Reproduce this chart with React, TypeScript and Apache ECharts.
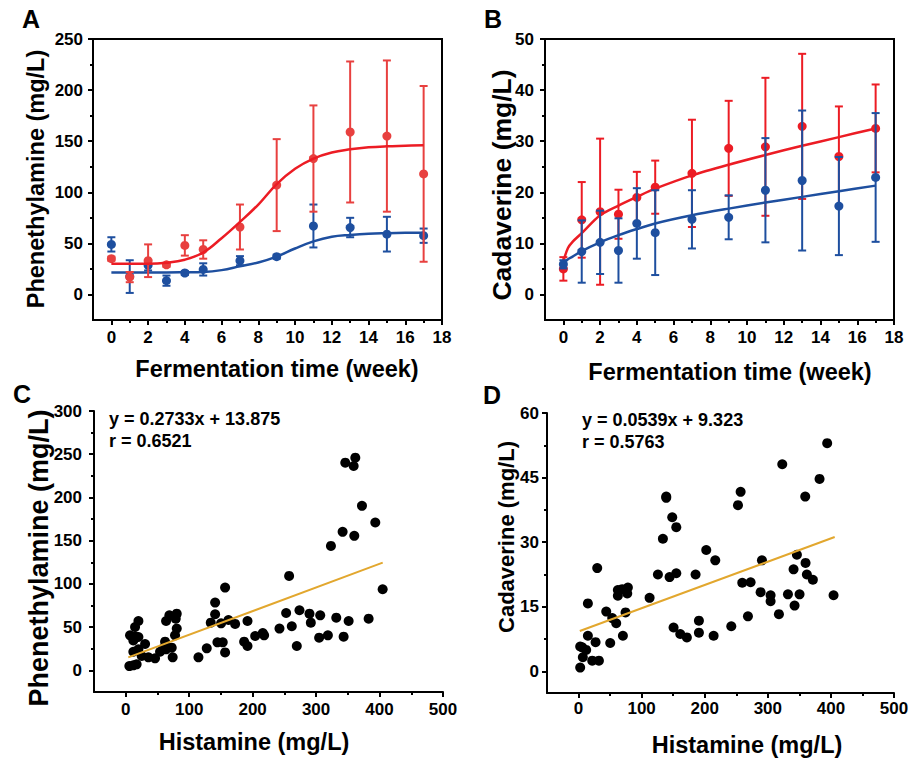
import React, { useEffect, useRef } from "react";
import * as echarts from "echarts";

// ---------- Panel A / B : time course ----------
const weeks = [0, 1, 2, 3, 4, 5, 7, 9, 11, 13, 15, 17];
const peaRedMean = [35, 17, 33, 29, 48, 44, 66, 107, 133, 159, 155, 118];
const peaRedErr = [2, 5, 16, 2, 10, 9, 22, 45, 52, 69, 74, 86];
const peaBlueMean = [49, 17.5, 28.5, 13.5, 21, 24.5, 33, 37, 67, 65.5, 59, 57.5];
const peaBlueErr = [7, 16, 5, 5, 2, 6, 4.5, 2, 21, 9.5, 17, 7];

const peaFitT = [0, 1, 2, 3, 4, 5, 6, 7, 8, 9, 10, 11, 12, 13, 14, 15, 16, 17];
const peaRedFit = [30, 30, 30, 31, 34, 41, 55, 71, 88, 108, 123, 133, 139, 142, 144, 145, 145.5, 146];
const peaBlueFit = [21.5, 21.5, 21.5, 21.5, 21.7, 22, 23.8, 27.5, 31.3, 37, 45, 52, 56.5, 58.3, 59.5, 60, 60.3, 60.5];

const cadRedMean = [5, 14.6, 16.2, 15.7, 19, 21, 23.7, 28.6, 28.9, 32.9, 27, 32.5];
const cadRedErr = [2.3, 7.4, 14.3, 4.8, 5, 5.2, 10.5, 9.3, 13.5, 14.2, 9.8, 8.6];
const cadBlueMean = [5.9, 8.4, 10.2, 8.6, 13.9, 12.1, 14.7, 15.1, 20.4, 22.3, 17.3, 22.9];
const cadBlueErr = [0.8, 6.1, 6.2, 6.3, 6.9, 8.3, 5.7, 4.3, 10.2, 13.7, 9.6, 12.6];

const cadFitT = [0, 0.25, 0.5, 1, 2, 3, 4, 5, 7, 9, 11, 13, 15, 17];
const cadRedFit = [6.5, 9.1, 10.3, 12, 15.5, 17.4, 19.1, 20.7, 23.3, 25.4, 27.3, 29.1, 30.8, 32.5];
const cadBlueFit = [6.1, 6.9, 7.4, 8.5, 10.2, 11.6, 12.8, 13.9, 15.5, 16.8, 18, 19.1, 20.2, 21.3];

// ---------- Panel C : Histamine vs Phenethylamine ----------
const histC = [5.7, 12, 17.2, 6.8, 14.7, 12, 20, 14.7, 20, 12, 20, 30.5, 25.2, 35.7, 46.2, 54.1, 62, 63.6, 72.5, 74, 59.4, 77.7, 80.4, 63.6, 68.8, 80.4, 78.8, 114.6, 127.7, 134, 140.9, 140.9, 156.6, 144.5, 152.9, 156.6, 150.3, 161.9, 172.4, 186.6, 191.9, 191.9, 204, 216, 218.1, 242.3, 252.8, 257.5, 261.7, 269.6, 273.8, 289.6, 291.7, 304.8, 306.5, 318.6, 323.4, 331.8, 341.8, 343.4, 346, 351.3, 359.2, 360.2, 361.8, 372.3, 382.8, 393.3, 404.9];
const peaC = [5, 5.8, 7, 40.5, 39.4, 34.7, 38.6, 50.2, 57.1, 21.6, 24.3, 30.5, 16.6, 15.1, 13.9, 21.6, 33.2, 24.3, 26.3, 15.1, 25.5, 40.5, 48.3, 57.1, 63.7, 65.6, 59.8, 15.1, 25.5, 55.2, 64.9, 78.4, 95.8, 32.4, 32.4, 20.8, 54.4, 58.3, 53.7, 33.2, 28.2, 57.1, 39.8, 43.2, 40.5, 48.3, 66.4, 109.3, 51, 28.2, 69.5, 65.6, 55.2, 37.8, 63.7, 40.5, 144, 61, 160.2, 39, 240.2, 57.1, 236.4, 155.6, 246, 190.3, 59.8, 171, 93.8];
const fitCX = [4, 405];
const fitCY = [15, 124.6];

// ---------- Panel D : Histamine vs Cadaverine ----------
const histD = [2.6, 6.8, 5.8, 2.6, 14.8, 21.7, 32.3, 27, 12.1, 14.8, 29.6, 43.9, 53.4, 59.7, 50.2, 70.3, 74.5, 62.3, 62.3, 69.2, 78.2, 77.2, 112.6, 125.8, 133.7, 139, 139, 148.5, 154.9, 144.3, 154.9, 150.6, 161.2, 171.7, 185.5, 190.8, 190.8, 202.4, 216.7, 214.1, 242.1, 252.7, 256.9, 259.5, 272.7, 268.5, 288.6, 290.7, 304.4, 304.4, 317.6, 322.9, 331.9, 340.8, 346.1, 342.4, 350.3, 359.3, 359.8, 361.9, 371.4, 382, 394.1, 404.2];
const cadD = [0.9, 3.3, 5.6, 5.8, 8.3, 2.5, 2.5, 6.8, 5, 15.8, 24, 13.9, 12.4, 11.2, 6.6, 8.3, 13.7, 18.9, 17.6, 19.1, 19.5, 18.1, 17.1, 22.5, 30.8, 40.6, 40.3, 35.8, 33.5, 21.9, 22.8, 10.2, 8.7, 7.9, 22.5, 11.8, 9, 28.2, 25.8, 8.3, 10.5, 38.6, 41.7, 20.6, 20.7, 12.8, 18.4, 25.8, 17.7, 16.3, 13.3, 48.1, 17.9, 23.7, 27.1, 15.3, 17.9, 40.6, 25.2, 22.5, 21.3, 44.7, 53, 17.7];
const fitDX = [2, 406];
const fitDY = [9.4, 31.2];

// ---------- tick values ----------
const weekTicks = [0, 2, 4, 6, 8, 10, 12, 14, 16, 18];
const weekMinor = [1, 3, 5, 7, 9, 11, 13, 15, 17];
const peaTicksA = [0, 50, 100, 150, 200, 250];
const peaMinorA = [25, 75, 125, 175, 225];
const cadTicksB = [0, 10, 20, 30, 40, 50];
const cadMinorB = [5, 15, 25, 35, 45];
const histTicks = [0, 100, 200, 300, 400, 500];
const histMinor = [50, 150, 250, 350, 450];
const peaTicksC = [0, 50, 100, 150, 200, 250, 300];
const peaMinorC = [25, 75, 125, 175, 225, 275];
const cadTicksD = [0, 15, 30, 45, 60];
const cadMinorD = [7.5, 22.5, 37.5, 52.5];

const FONT = "'Liberation Sans', Arial, Helvetica, sans-serif";
const RED_PT = "#E8403F";
const RED_LINE = "#EC1C24";
const BLUE = "#1E4F9F";
const GOLD = "#E2A72E";

function axisPair(
  gridIndex: number,
  position: string,
  min: number,
  max: number,
  majors: number[],
  minors: number[],
  margin: number
) {
  const base = {
    type: "value",
    gridIndex,
    position,
    min,
    max,
    splitLine: { show: false },
  };
  return [
    {
      ...base,
      axisLine: { show: true, onZero: false, lineStyle: { color: "#000", width: 2 } },
      axisTick: { show: true, inside: false, length: 5, lineStyle: { color: "#000", width: 2 }, customValues: majors },
      axisLabel: {
        show: true,
        customValues: majors,
        margin,
        color: "#000",
        fontSize: 17,
        fontWeight: "bold",
        fontFamily: FONT,
      },
    },
    {
      ...base,
      axisLine: { show: false, onZero: false },
      axisTick: { show: true, inside: false, length: 3, lineStyle: { color: "#000", width: 2 }, customValues: minors },
      axisLabel: { show: false },
    },
  ];
}

function errorSeries(g: number, x: number[], mean: number[], err: number[], color: string, z: number) {
  return {
    type: "custom",
    xAxisIndex: 2 * g,
    yAxisIndex: 2 * g,
    z,
    data: x.map((t, i) => [t, mean[i] - err[i], mean[i] + err[i]]),
    encode: { x: 0, y: [1, 2] },
    renderItem: (params: any, api: any) => {
      const lo = api.coord([api.value(0), api.value(1)]);
      const hi = api.coord([api.value(0), api.value(2)]);
      const w = 4;
      const style = { stroke: color, lineWidth: 2 };
      return {
        type: "group",
        children: [
          { type: "line", shape: { x1: lo[0], y1: lo[1], x2: hi[0], y2: hi[1] }, style },
          { type: "line", shape: { x1: lo[0] - w, y1: lo[1], x2: lo[0] + w, y2: lo[1] }, style },
          { type: "line", shape: { x1: hi[0] - w, y1: hi[1], x2: hi[0] + w, y2: hi[1] }, style },
        ],
      };
    },
  };
}

function pointSeries(g: number, x: number[], y: number[], color: string, size: number, z: number) {
  return {
    type: "scatter",
    xAxisIndex: 2 * g,
    yAxisIndex: 2 * g,
    z,
    symbol: "circle",
    symbolSize: size,
    itemStyle: { color, opacity: 1 },
    data: x.map((t, i) => [t, y[i]]),
  };
}

function lineSeries(g: number, x: number[], y: number[], color: string, width: number, z: number, smooth: any) {
  return {
    type: "line",
    xAxisIndex: 2 * g,
    yAxisIndex: 2 * g,
    z,
    smooth,
    showSymbol: false,
    symbol: "none",
    lineStyle: { color, width },
    data: x.map((t, i) => [t, y[i]]),
  };
}

function txt(text: string, x: number, y: number, size: number, opts: any = {}) {
  return {
    type: "text",
    x,
    y,
    rotation: opts.rotation || 0,
    style: {
      text,
      fill: "#000",
      font: `bold ${size}px ${FONT}`,
      align: opts.align || "center",
      verticalAlign: "middle",
      textAlign: opts.align || "center",
      textVerticalAlign: "middle",
    },
  };
}

export default function App() {
  const ref = useRef<HTMLDivElement>(null);
  useEffect(() => {
    if (!ref.current) return;
    const chart = echarts.init(ref.current, undefined, { renderer: "svg" });
    const boxed = { show: true, borderColor: "#000", borderWidth: 2, backgroundColor: "transparent" };
    const option: any = {
      animation: false,
      backgroundColor: "#fff",
      grid: [
        { left: 93, top: 39, width: 349, height: 281, ...boxed },
        { left: 545, top: 39, width: 349, height: 281, ...boxed },
        { left: 94, top: 411, width: 349, height: 281, show: false },
        { left: 547, top: 413, width: 347, height: 280, show: false },
      ],
      xAxis: [
        ...axisPair(0, "bottom", -1, 18, weekTicks, weekMinor, 9),
        ...axisPair(1, "bottom", -1, 18, weekTicks, weekMinor, 9),
        ...axisPair(2, "bottom", -50, 500, histTicks, histMinor, 9),
        ...axisPair(3, "bottom", -50, 500, histTicks, histMinor, 7),
      ],
      yAxis: [
        ...axisPair(0, "left", -25, 250, peaTicksA, peaMinorA, 10),
        ...axisPair(1, "left", -5, 50, cadTicksB, cadMinorB, 11),
        ...axisPair(2, "left", -25, 300, peaTicksC, peaMinorC, 12),
        ...axisPair(3, "left", -5, 60, cadTicksD, cadMinorD, 8),
      ],
      series: [
        // A
        errorSeries(0, weeks, peaBlueMean, peaBlueErr, BLUE, 2),
        pointSeries(0, weeks, peaBlueMean, BLUE, 9, 3),
        lineSeries(0, peaFitT, peaBlueFit, BLUE, 2.5, 4, 0.4),
        errorSeries(0, weeks, peaRedMean, peaRedErr, RED_PT, 5),
        pointSeries(0, weeks, peaRedMean, RED_PT, 9, 6),
        lineSeries(0, peaFitT, peaRedFit, RED_LINE, 2.5, 7, 0.4),
        // B
        errorSeries(1, weeks, cadRedMean, cadRedErr, RED_LINE, 2),
        pointSeries(1, weeks, cadRedMean, RED_LINE, 9, 3),
        lineSeries(1, cadFitT, cadRedFit, RED_LINE, 2.5, 4, 0.3),
        errorSeries(1, weeks, cadBlueMean, cadBlueErr, BLUE, 5),
        pointSeries(1, weeks, cadBlueMean, BLUE, 9, 6),
        lineSeries(1, cadFitT, cadBlueFit, BLUE, 2.5, 7, 0.3),
        // C
        pointSeries(2, histC, peaC, "#000", 10, 3),
        lineSeries(2, fitCX, fitCY, GOLD, 2, 4, false),
        // D
        pointSeries(3, histD, cadD, "#000", 10, 3),
        lineSeries(3, fitDX, fitDY, GOLD, 2, 4, false),
      ],
      graphic: [
        txt("A", 31, 19, 25),
        txt("B", 493, 19, 25),
        txt("C", 22, 394, 25),
        txt("D", 492, 395, 25),
        txt("Fermentation time (week)", 277, 369, 23.5),
        txt("Fermentation time (week)", 730, 372, 23.5),
        txt("Histamine (mg/L)", 254, 742, 23.5),
        txt("Histamine (mg/L)", 747, 745, 23.5),
        txt("Phenethylamine (mg/L)", 36, 179, 23.5, { rotation: Math.PI / 2 }),
        txt("Cadaverine (mg/L)", 502, 185, 26.5, { rotation: Math.PI / 2 }),
        txt("Phenethylamine (mg/L)", 39, 558, 27, { rotation: Math.PI / 2 }),
        txt("Cadaverine (mg/L)", 506, 537, 22, { rotation: Math.PI / 2 }),
        txt("y = 0.2733x + 13.875", 109, 419, 18, { align: "left" }),
        txt("r = 0.6521", 109, 441, 18, { align: "left" }),
        txt("y = 0.0539x + 9.323", 582, 420, 18, { align: "left" }),
        txt("r = 0.5763", 582, 442, 18, { align: "left" }),
      ],
    };
    chart.setOption(option);
    return () => chart.dispose();
  }, []);
  return (
    <div
      ref={ref}
      style={{ position: "absolute", left: 0, top: 0, width: 912, height: 760, background: "#fff" }}
    />
  );
}
